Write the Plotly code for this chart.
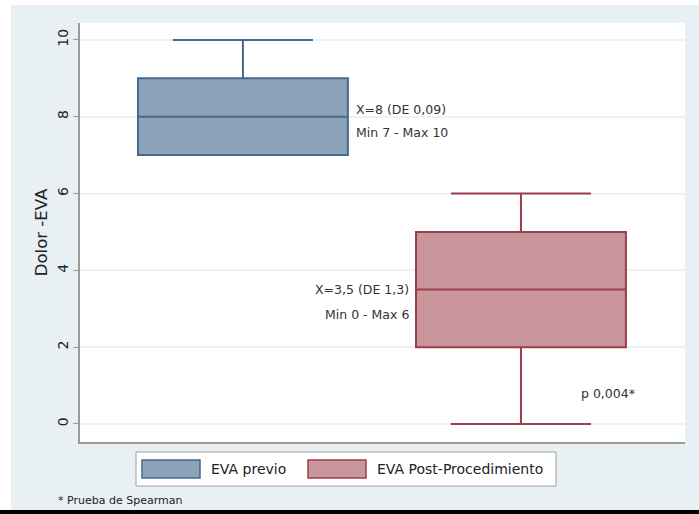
import plotly.graph_objects as go

# Box summaries (pain scale EVA, before and after the procedure)
groups = ["EVA previo", "EVA Post-Procedimiento"]
positions = [1, 2]
q1 = [7, 2]
median = [8, 3.5]
q3 = [9, 5]
lower_whisker = [7, 0]
upper_whisker = [10, 6]
fills = ["#8da3ba", "#c8969b"]
edges = ["#45698f", "#9c3d4a"]

y_ticks = [0, 2, 4, 6, 8, 10]

BG = "#e8f0f3"
FONT = "DejaVu Sans, Arial, sans-serif"

fig = go.Figure()
for i, name in enumerate(groups):
    fig.add_trace(go.Box(
        x=[positions[i]],
        q1=[q1[i]], median=[median[i]], q3=[q3[i]],
        lowerfence=[lower_whisker[i]], upperfence=[upper_whisker[i]],
        name=name, width=0.755, whiskerwidth=0.667,
        fillcolor=fills[i], line=dict(color=edges[i], width=2),
        boxpoints=False, showlegend=False, hoverinfo="skip",
    ))

# Text labels next to each box
notes = [
    dict(x=1.40, y=8.2, text="X=8 (DE 0,09)", xanchor="left"),
    dict(x=1.40, y=7.6, text="Min 7 - Max 10", xanchor="left"),
    dict(x=1.605, y=3.5, text="X=3,5 (DE 1,3)", xanchor="right"),
    dict(x=1.605, y=2.85, text="Min 0 - Max 6", xanchor="right"),
    dict(x=2.21, y=0.8, text="p 0,004*", xanchor="left"),
]
for n in notes:
    fig.add_annotation(x=n["x"], y=n["y"], text=n["text"], xanchor=n["xanchor"],
                       yanchor="middle", showarrow=False,
                       font=dict(family=FONT, size=12.5, color="#333333"))

# Plot-area geometry in pixels for paper-coordinate decorations
L, R, T, B, W, H = 80, 685, 23, 442, 699, 514
pw, ph = R - L, B - T


def px(x):
    return (x - L) / pw


def py(y):
    return (B - y) / ph


shapes = [
    # white strips around the canvas, black strip at bottom
    dict(type="rect", xref="paper", yref="paper", x0=px(0), x1=px(W), y0=py(0), y1=py(5),
         fillcolor="white", line=dict(width=0), layer="above"),
    dict(type="rect", xref="paper", yref="paper", x0=px(0), x1=px(11), y0=py(0), y1=py(H),
         fillcolor="white", line=dict(width=0), layer="above"),
    dict(type="rect", xref="paper", yref="paper", x0=px(0), x1=px(W), y0=py(510), y1=py(H),
         fillcolor="black", line=dict(width=0), layer="above"),
    # legend box
    dict(type="rect", xref="paper", yref="paper", x0=px(136), x1=px(556), y0=py(486), y1=py(452),
         fillcolor="white", line=dict(color="#a0a0a0", width=1), layer="above"),
]
legend_items = [(142, 200, 209), (308, 366, 375)]
for i, (sx0, sx1, tx) in enumerate(legend_items):
    shapes.append(dict(type="rect", xref="paper", yref="paper",
                       x0=px(sx0), x1=px(sx1), y0=py(478), y1=py(460),
                       fillcolor=fills[i], line=dict(color=edges[i], width=1.5), layer="above"))
    fig.add_annotation(xref="paper", yref="paper", x=px(tx), y=py(469), text=groups[i],
                       xanchor="left", yanchor="middle", showarrow=False,
                       font=dict(family=FONT, size=14, color="#222222"))

fig.add_annotation(xref="paper", yref="paper", x=px(56), y=py(500), text="* Prueba de Spearman",
                   xanchor="left", yanchor="middle", showarrow=False,
                   font=dict(family=FONT, size=11, color="#222222"))

fig.update_layout(
    width=W, height=H,
    margin=dict(l=L, r=W - R, t=T, b=H - B),
    paper_bgcolor=BG, plot_bgcolor="white",
    boxmode="overlay", showlegend=False,
    shapes=shapes,
    font=dict(family=FONT, color="#222222"),
    xaxis=dict(range=[0.414, 2.59], showticklabels=False, showgrid=False, zeroline=False,
               showline=True, linecolor="#9a9a9a", linewidth=1.5, ticks=""),
    yaxis=dict(range=[-0.47, 10.44], tickvals=y_ticks, ticktext=[str(v) for v in y_ticks],
               tickangle=-90, ticks="outside", ticklen=5, tickcolor="#9a9a9a",
               tickfont=dict(family=FONT, size=14, color="#222222"),
               showgrid=True, gridcolor="#edf3f5", gridwidth=1.5, zeroline=False,
               showline=True, linecolor="#9a9a9a", linewidth=1.5,
               title=dict(text="Dolor -EVA", font=dict(family=FONT, size=16.5, color="#222222"),
                          standoff=3)),
)

fig.write_html("out.html")
